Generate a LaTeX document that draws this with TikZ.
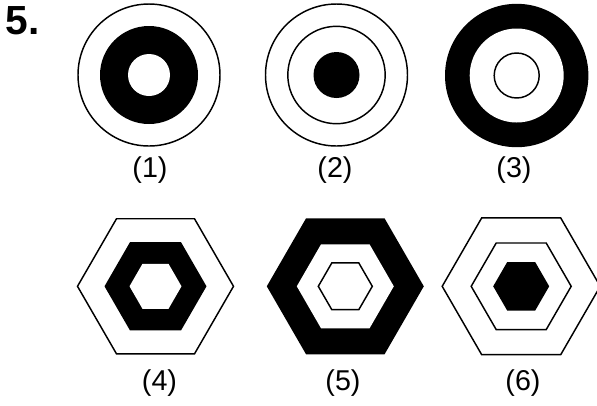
\documentclass[tikz,border=0pt]{standalone}
\usepackage{fontspec}
\setmainfont{Liberation Sans}
\begin{document}
\begin{tikzpicture}[x=0.75pt,y=-0.75pt,
  outl/.style={draw=black,line width=1.1pt},
  solid/.style={fill=black},
  blank/.style={fill=white},
  lbl/.style={font=\fontsize{21.5}{26}\selectfont,inner sep=0pt},
  num/.style={font=\fontsize{30.5}{34}\selectfont\bfseries,inner sep=0pt,anchor=north west}]
\useasboundingbox (0,0) rectangle (597,405);
\node[num] (title) at (5.5,6.5) {5.};
% circles
\coordinate (c1) at (149,75);
\coordinate (c2) at (336.5,75);
\coordinate (c3) at (516.7,75.5);
\draw[outl] (c1) circle (71);
\fill[solid] (c1) circle (49);
\fill[blank] (c1) circle (21);
\draw[outl] (c2) circle (71);
\draw[outl] (c2) circle (48.7);
\fill[solid] (c2) circle (23);
\fill[solid] (c3) circle (71.7);
\fill[blank] (c3) circle (47);
\draw[outl] (c3) circle (22.5);
\node[lbl] (l1) at (150,170) {(1)};
\node[lbl] (l2) at (335,170) {(2)};
\node[lbl] (l3) at (514,170) {(3)};
% hexagons
\newcommand{\hexpath}[2]{(#1) +(0:#2) -- +(60:#2) -- +(120:#2) -- +(180:#2) -- +(240:#2) -- +(300:#2) -- cycle}
\coordinate (h4) at (155.5,286.3);
\coordinate (h5) at (345.3,286.3);
\coordinate (h6) at (521.2,286.3);
\draw[outl,line join=miter] \hexpath{h4}{78};
\fill[solid] \hexpath{h4}{51};
\fill[blank] \hexpath{h4}{26};
\fill[solid] \hexpath{h5}{78.5};
\fill[blank] \hexpath{h5}{48.5};
\draw[outl,line join=miter] \hexpath{h5}{27};
\draw[outl,line join=miter] \hexpath{h6}{79};
\draw[outl,line join=miter] \hexpath{h6}{50};
\fill[solid] \hexpath{h6}{28};
\node[lbl] (l4) at (159.5,383) {(4)};
\node[lbl] (l5) at (343,383) {(5)};
\node[lbl] (l6) at (523,383) {(6)};
\end{tikzpicture}
\end{document}
